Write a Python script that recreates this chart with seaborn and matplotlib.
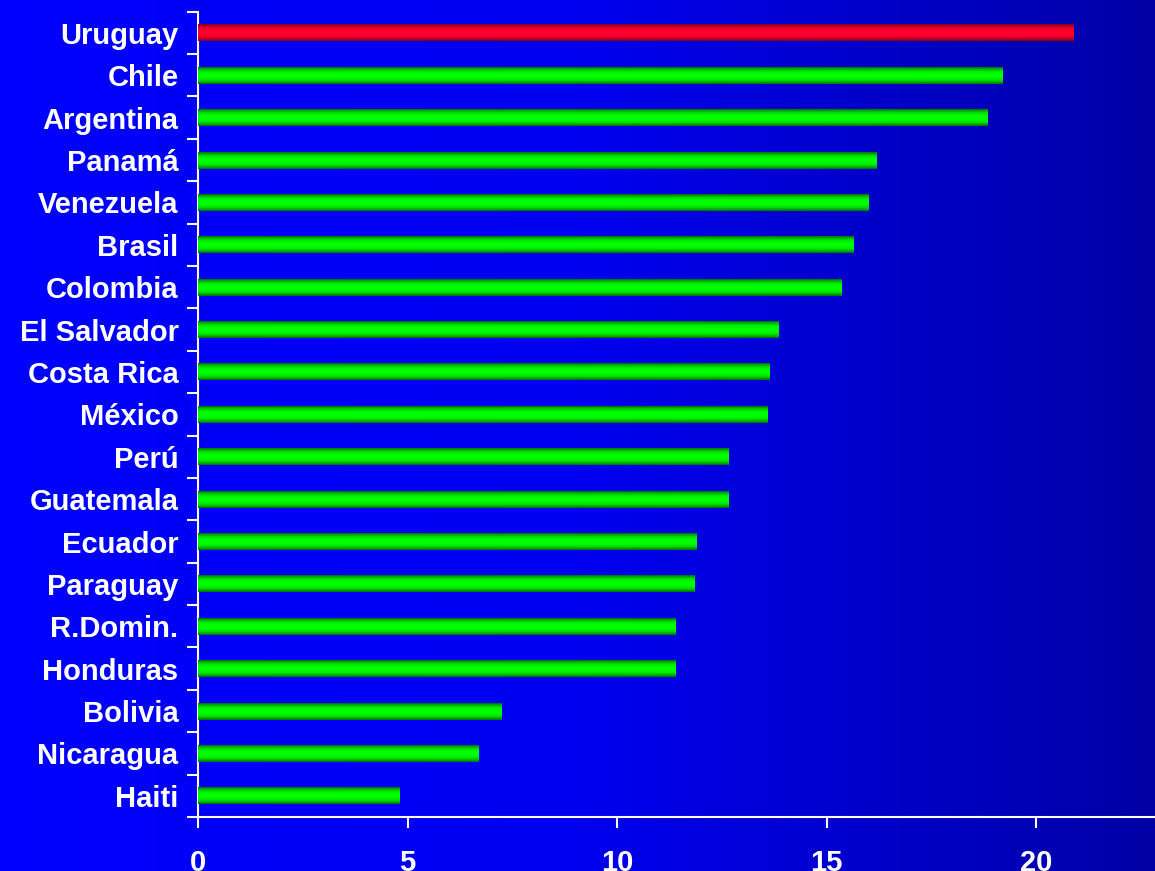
import numpy as np
import matplotlib
matplotlib.use("Agg")
import matplotlib.pyplot as plt
import seaborn as sns

# data
countries = ["Uruguay", "Chile", "Argentina", "Panamá", "Venezuela", "Brasil",
             "Colombia", "El Salvador", "Costa Rica", "México", "Perú",
             "Guatemala", "Ecuador", "Paraguay", "R.Domin.", "Honduras",
             "Bolivia", "Nicaragua", "Haiti"]
values = [20.9, 19.2, 18.85, 16.2, 16.0, 15.65, 15.35, 13.85, 13.65, 13.6,
          12.65, 12.65, 11.9, 11.85, 11.4, 11.4, 7.25, 6.7, 4.8]
highlight = "Uruguay"
x_ticks = [0, 5, 10, 15, 20]

sns.set_style("white")
plt.rcParams['font.family'] = ['Liberation Sans', 'DejaVu Sans']

fig = plt.figure(figsize=(11.55, 8.71), dpi=100)

# blue gradient background over the whole figure
bg = fig.add_axes([0, 0, 1, 1], zorder=-1)
grad = np.linspace(0, 1, 256).reshape(1, -1)
bg_cmap = matplotlib.colors.LinearSegmentedColormap.from_list(
    "bg", ["#0000ff", "#0000f0", "#0000a6"])
bg.imshow(grad, aspect="auto", cmap=bg_cmap, extent=[0, 1, 0, 1])
bg.set_axis_off()

ax = fig.add_axes([198 / 1155, 54 / 871, 1 - 198 / 1155, (817 - 11.7) / 871])
ax.patch.set_alpha(0)

palette = {c: ("#ff0030" if c == highlight else "#00ff00") for c in countries}
sns.barplot(x=values, y=countries, hue=countries, palette=palette,
            legend=False, orient="h", width=0.4, ax=ax)

# cylinder-like shading on each bar
t = np.linspace(-1, 1, 64)
shade = 1 - np.abs(t) ** 2.5 * 0.85
green_cmap = matplotlib.colors.LinearSegmentedColormap.from_list(
    "g", ["#005000", "#00ff00"])
red_cmap = matplotlib.colors.LinearSegmentedColormap.from_list(
    "r", ["#600010", "#ff0030"])
for patch, name in zip(ax.patches, countries):
    x0, y0 = patch.get_x(), patch.get_y()
    w, h = patch.get_width(), patch.get_height()
    cmap = red_cmap if name == highlight else green_cmap
    ax.imshow(shade.reshape(-1, 1), aspect="auto", cmap=cmap, vmin=0, vmax=1,
              extent=[x0, x0 + w, y0 + h, y0], interpolation="bilinear",
              zorder=3)
    patch.set_alpha(0)

ax.set_xlim(0, 957 / 41.9)
ax.set_ylim(len(countries) - 0.5, -0.5)
ax.set_xticks(x_ticks)
ax.set_xticklabels([str(v) for v in x_ticks])
ax.set_yticks(np.arange(-0.5, len(countries), 1.0), minor=True)
ax.set_xlabel("")
ax.set_ylabel("")

for side in ["top", "right"]:
    ax.spines[side].set_visible(False)
for side in ["left", "bottom"]:
    ax.spines[side].set_color("white")
    ax.spines[side].set_linewidth(1.5)

ax.tick_params(axis="y", which="major", length=0, pad=14,
               labelsize=21, labelcolor="white")
ax.tick_params(axis="y", which="minor", length=8, width=1.5, color="white",
               left=True)
ax.tick_params(axis="x", which="major", length=8, width=1.5, color="white",
               bottom=True, pad=15, labelsize=21, labelcolor="white")
for lab in ax.get_yticklabels() + ax.get_xticklabels():
    lab.set_fontweight("bold")

fig.savefig("out.png", dpi=100)
